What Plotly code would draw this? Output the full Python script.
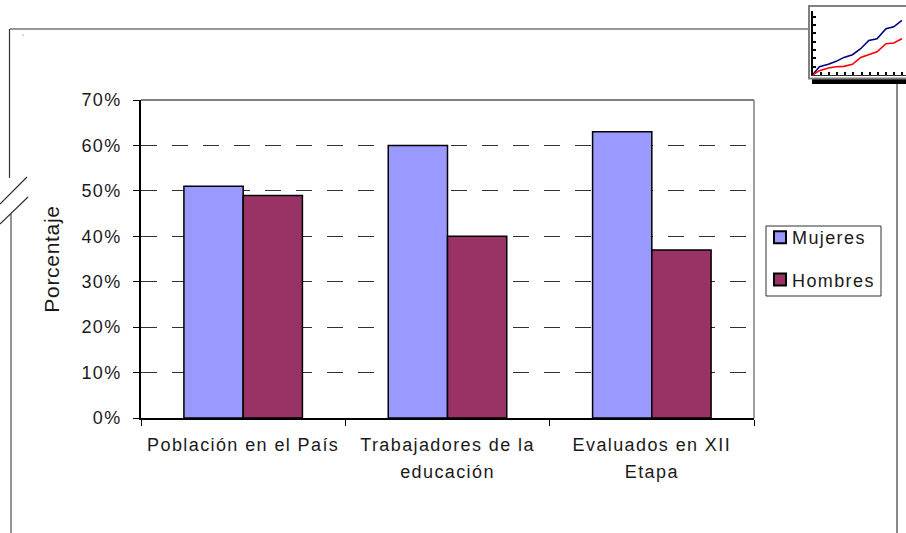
import plotly.graph_objects as go

W, H = 906, 533
FONT = "Liberation Sans"

categories = ["Población en el País", "Trabajadores de la<br>educación", "Evaluados en XII<br>Etapa"]
mujeres = [0.51, 0.60, 0.63]
hombres = [0.49, 0.40, 0.37]
y_ticks = [0, 0.1, 0.2, 0.3, 0.4, 0.5, 0.6, 0.7]

inset_x = [0, 0.85, 1.95, 2.9, 3.85, 4.9, 5.9, 6.9, 7.9, 9.0, 9.95, 10.95]
inset_blue = [0, 10, 12.8, 16.4, 21.2, 24.4, 31.6, 41.6, 43.6, 55.6, 58, 65.6]
inset_red = [0, 5.2, 8.4, 10, 10.4, 12.8, 21.2, 24.4, 28, 37.6, 38.4, 43.6]


def px(x):
    return x / W


def py(y):
    return 1 - y / H


def line(x0, y0, x1, y1, color="#303030", width=1.2):
    return dict(type="line", xref="paper", yref="paper", x0=px(x0), y0=py(y0), x1=px(x1), y1=py(y1),
                line=dict(color=color, width=width), layer="below")


def rect(x0, y0, x1, y1, fill, color=None, width=0):
    return dict(type="rect", xref="paper", yref="paper", x0=px(x0), y0=py(y0), x1=px(x1), y1=py(y1),
                fillcolor=fill, line=dict(color=color or fill, width=width), layer="below")


fig = go.Figure()
bar_line = dict(color="#000000", width=1.5)
fig.add_bar(x=categories, y=mujeres, name="Mujeres", legendgroup="m",
            marker=dict(color="#9999FF", line=bar_line))
fig.add_bar(x=categories, y=hombres, name="Hombres", legendgroup="h",
            marker=dict(color="#993366", line=bar_line))
fig.add_scatter(x=inset_x, y=inset_blue, mode="lines", xaxis="x2", yaxis="y2", showlegend=False,
                line=dict(color="#000080", width=1.6))
fig.add_scatter(x=inset_x, y=inset_red, mode="lines", xaxis="x2", yaxis="y2", showlegend=False,
                line=dict(color="#FF0000", width=1.6))

shapes = [
    line(10, 29, 809, 29),
    line(9.5, 29, 9.5, 178),
    line(11, 214, 11, 533, "#707070", 1.5),
    line(897, 84, 897, 533, "#606060", 1.5),
    line(0, 204, 27, 177),
    line(0, 224, 28, 197),
    line(22.5, 35, 23.5, 35, "#606060", 1),
    line(141, 100, 754, 100, "#000000", 1.2),
    line(754, 100, 754, 418, "#808080", 1.5),
    rect(766, 226, 881, 296, "#FFFFFF", "#303030", 1),
    rect(812, 78, 906, 84, "#000000"),
    rect(809, 6, 910, 78.5, "#FFFFFF", "#808080", 2),
]

fig.update_layout(
    width=W, height=H, autosize=False,
    margin=dict(l=0, r=0, t=0, b=0, autoexpand=False),
    paper_bgcolor="#FFFFFF", plot_bgcolor="rgba(0,0,0,0)",
    barmode="group", bargap=0.42, bargroupgap=0,
    font=dict(family=FONT, size=18, color="#1a1a1a"),
    showlegend=True,
    legend=dict(x=px(766), y=py(219), xanchor="left", yanchor="top",
                bgcolor="rgba(0,0,0,0)", borderwidth=0,
                tracegroupgap=16, font=dict(size=18), itemsizing="constant",
                itemwidth=30, entrywidth=75, entrywidthmode="pixels"),
    shapes=shapes,
    xaxis=dict(domain=[px(141), px(754)], anchor="y", tickson="boundaries", ticks="outside",
               ticklen=6, tickcolor="#000000", showline=True, linecolor="#000000", linewidth=1.5,
               showgrid=False, tickfont=dict(size=18), tickangle=0, ticklabelstandoff=10),
    yaxis=dict(domain=[py(418), py(100)], anchor="x", range=[0, 0.7], tickvals=y_ticks, tickformat=".0%",
               ticks="outside", ticklen=6, tickcolor="#000000", showline=True, linecolor="#000000",
               linewidth=1.5, showgrid=True, gridcolor="#303030", gridwidth=1,
               griddash="16px,15px", zeroline=False, tickfont=dict(size=18), ticklabelstandoff=8,
               title=dict(text="Porcentaje", font=dict(size=21), standoff=20)),
    xaxis2=dict(domain=[px(812.5), 1], anchor="y2", range=[0, 11.45], dtick=1, ticks="inside", ticklen=3,
                tickcolor="#000000", tickwidth=1.5, showticklabels=False, showgrid=False, zeroline=False,
                showline=True, linecolor="#303030", linewidth=1),
    yaxis2=dict(domain=[py(75), py(11)], anchor="x2", range=[0, 77], dtick=10, ticks="inside", ticklen=3,
                tickcolor="#000000", tickwidth=1.5, showticklabels=False, showgrid=False, zeroline=False,
                showline=True, linecolor="#000000", linewidth=2),
)

post = """
document.body.style.margin='0';
var st=document.createElement('style');
st.textContent='.xtick text,.ytick text,.legendtext{letter-spacing:1.4px}.g-ytitle text{letter-spacing:0.7px}';
document.head.appendChild(st);
document.querySelectorAll('.legendtext').forEach(function(t){t.setAttribute('x','26');});
document.querySelectorAll('.legendpoints').forEach(function(g){g.setAttribute('transform','translate(-6,0)');});
document.querySelectorAll('.xtick tspan.line').forEach(function(s){
  var d=parseFloat(s.getAttribute('dy')||'0'); if(d>0){s.setAttribute('dy','1.5em');}
});
"""
fig.write_html("out.html", post_script=post, config={"displayModeBar": False})
